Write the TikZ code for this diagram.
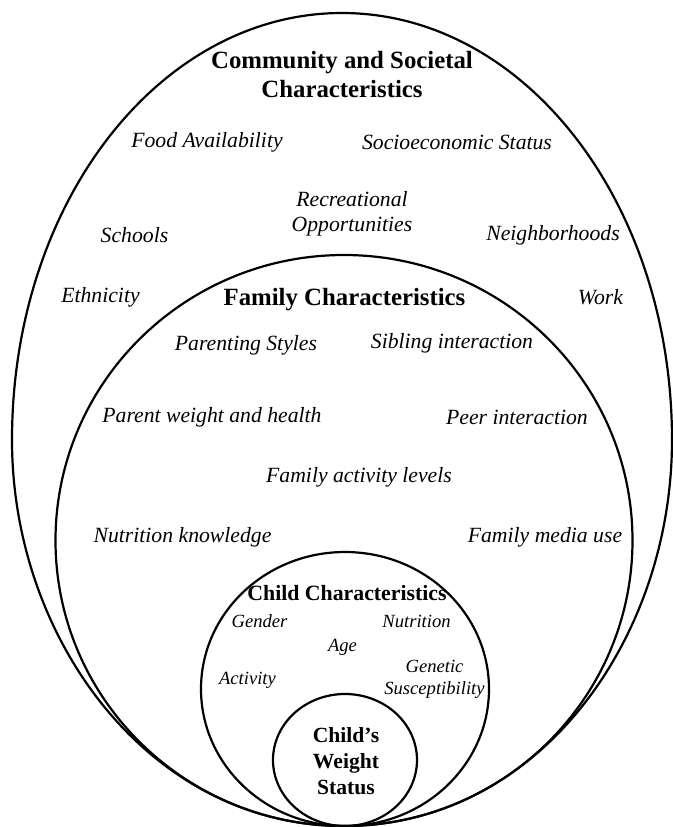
\documentclass[tikz,border=0pt]{standalone}
\usepackage{fontspec}
\setmainfont{Liberation Serif}
\begin{document}
\begin{tikzpicture}[x=0.5pt,y=-0.5pt,
  ring/.style={line width=1.1pt},
  factor/.style={inner sep=0pt,font=\fontsize{10.85}{12.5}\selectfont\itshape,align=center},
  childfactor/.style={inner sep=0pt,font=\fontsize{9.3}{11}\selectfont\itshape,align=center},
  bigtitle/.style={inner sep=0pt,font=\fontsize{12.4}{14.5}\selectfont\bfseries,align=center},
  midtitle/.style={inner sep=0pt,font=\fontsize{10.9}{13}\selectfont\bfseries,align=center}]
\useasboundingbox (0,0) rectangle (673,827);
% rings
\draw[ring] (342,13) .. controls (160,13) and (12,202) .. (12,440)
  .. controls (12,640) and (150,826) .. (344,826)
  .. controls (538,826) and (672,640) .. (672,440)
  .. controls (672,202) and (524,13) .. (342,13) -- cycle;
\draw[ring] (344,540.5) ellipse [x radius=144.25pt, y radius=142.75pt];
\draw[ring] (345,689) ellipse [x radius=72pt, y radius=68.5pt];
\draw[ring] (345,760) ellipse [x radius=36pt, y radius=33pt];
% community
\node[bigtitle] (comm) at (342,75) {Community and Societal\\Characteristics};
\node[factor] (food) at (207,142) {Food Availability};
\node[factor] (ses) at (457,142) {Socioeconomic Status};
\node[factor] (rec) at (352,214) {Recreational\\Opportunities};
\node[factor] (school) at (134.5,235) {Schools};
\node[factor] (neigh) at (553,235) {Neighborhoods};
\node[factor] (eth) at (100.5,297) {Ethnicity};
\node[factor] (work) at (600.5,297) {Work};
% family
\node[bigtitle] (fam) at (344.5,300) {Family Characteristics};
\node[factor] (par) at (246,345) {Parenting Styles};
\node[factor] (sib) at (452,343) {Sibling interaction};
\node[factor] (pwh) at (212,417) {Parent weight and health};
\node[factor] (peer) at (517,417) {Peer interaction};
\node[factor] (fal) at (359,477) {Family activity levels};
\node[factor] (nk) at (182.5,537) {Nutrition knowledge};
\node[factor] (fmu) at (545,537) {Family media use};
% child
\node[midtitle] (child) at (347,593) {Child Characteristics};
\node[childfactor] (gen) at (259.5,621) {Gender};
\node[childfactor] (nut) at (416.5,621) {Nutrition};
\node[childfactor] (age) at (342.5,647) {Age};
\node[childfactor] (act) at (247.5,680) {Activity};
\node[childfactor] (gs) at (434.5,679) {Genetic\\Susceptibility};
% weight status
\node[midtitle,font=\fontsize{10.8}{13}\selectfont\bfseries] (cws) at (346,761) {Child’s\\Weight\\Status};
\end{tikzpicture}
\end{document}
